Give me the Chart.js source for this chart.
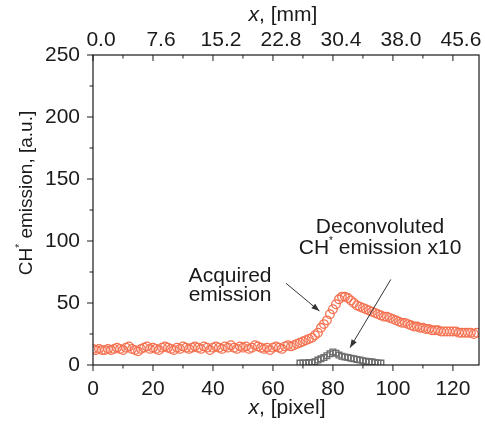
<!DOCTYPE html>
<html>
<head>
<meta charset="utf-8">
<script src="https://cdn.jsdelivr.net/npm/chart.js@4/dist/chart.umd.min.js"></script>
<style>
  html, body { margin: 0; padding: 0; background: #fff; }
  #wrap { width: 485px; height: 426px; }
</style>
</head>
<body>
<div id="wrap"><canvas id="c" width="485" height="426"></canvas></div>
<script>
// ---- data ----
const acquiredX = [];
for (let i = 0; i <= 128; i++) acquiredX.push(i);
const acquiredY = [
  13, 12, 13, 12, 12, 13, 12, 13, 14, 13,
  12, 14, 15, 13, 12, 11, 13, 14, 15, 13,
  14, 13, 12, 14, 15, 14, 13, 12, 14, 13,
  15, 14, 13, 14, 15, 14, 13, 15, 14, 12,
  14, 15, 14, 13, 15, 14, 16, 14, 13, 15,
  14, 15, 13, 14, 16, 15, 14, 13, 14, 12,
  14, 15, 14, 13, 15, 16, 15, 16, 17, 18,
  19, 20, 21, 22, 24, 26, 30, 33, 36, 41,
  45, 49, 53, 55, 55, 54, 52, 50, 48, 47,
  46, 45, 44, 43, 42, 41, 40, 39, 39, 38,
  37, 36, 35, 34, 34, 33, 32, 31, 31, 30,
  30, 29, 29, 28, 28, 28, 27, 27, 27, 27,
  27, 27, 26, 26, 26, 26, 26, 25, 26
];
const deconvX = [69, 70, 71, 72, 73, 74, 75, 76, 77, 78, 79, 80, 81, 82,
                 83, 84, 85, 86, 87, 88, 89, 90, 91, 92, 93, 94, 95, 96];
const deconvY = [1.5, 1.5, 1.5, 2, 2, 2.5, 4, 5, 6, 7.5, 9, 10.5, 9.5, 8,
                 7, 6.5, 6, 5.5, 5, 4.5, 4, 3.5, 3, 2.5, 2.5, 2, 1.5, 1.5];

const xMajor = [0, 20, 40, 60, 80, 100, 120];
const yMajor = [0, 50, 100, 150, 200, 250];
const mmPerPixel = 0.38;

const FONT = '"Liberation Sans", Arial, Helvetica, sans-serif';
const INK = '#1a1a1a';
const FS = 21;

// ---- helpers ----
const toPts = (xs, ys) => xs.map((x, i) => ({ x, y: ys[i] }));

// draw text made of parts: {t, size, italic, dy}
function richWidth(ctx, parts) {
  let w = 0;
  parts.forEach(p => {
    ctx.font = (p.italic ? 'italic ' : '') + p.size + 'px ' + FONT;
    w += ctx.measureText(p.t).width;
  });
  return w;
}
function drawRich(ctx, parts, cx, cy) {
  const w = richWidth(ctx, parts);
  let x = cx - w / 2;
  ctx.textBaseline = 'middle';
  ctx.textAlign = 'left';
  parts.forEach(p => {
    ctx.font = (p.italic ? 'italic ' : '') + p.size + 'px ' + FONT;
    ctx.fillText(p.t, x, cy + (p.dy || 0));
    x += ctx.measureText(p.t).width;
  });
}
function arrow(ctx, x1, y1, x2, y2) {
  ctx.beginPath();
  ctx.moveTo(x1, y1);
  ctx.lineTo(x2, y2);
  ctx.stroke();
  const a = Math.atan2(y2 - y1, x2 - x1);
  const L = 8, W = 3;
  ctx.beginPath();
  ctx.moveTo(x2, y2);
  ctx.lineTo(x2 - L * Math.cos(a) + W * Math.sin(a), y2 - L * Math.sin(a) - W * Math.cos(a));
  ctx.lineTo(x2 - L * Math.cos(a) - W * Math.sin(a), y2 - L * Math.sin(a) + W * Math.cos(a));
  ctx.closePath();
  ctx.fill();
}

// ---- axes frame, ticks, titles, annotations ----
const decorations = {
  id: 'decorations',
  afterDatasetsDraw(chart) {
    const { ctx, chartArea: a, scales } = chart;
    const sx = scales.x, sy = scales.y;
    ctx.save();
    ctx.strokeStyle = INK;
    ctx.fillStyle = INK;
    ctx.lineWidth = 1.2;
    ctx.strokeRect(a.left, a.top, a.right - a.left, a.bottom - a.top);

    ctx.lineWidth = 1;
    ctx.beginPath();
    for (let v = 0; v <= 128; v += 10) {
      const px = sx.getPixelForValue(v);
      const len = v % 20 === 0 ? 6 : 3.5;
      ctx.moveTo(px, a.bottom); ctx.lineTo(px, a.bottom + len);
      ctx.moveTo(px, a.top); ctx.lineTo(px, a.top + len);
    }
    for (let v = 0; v <= 250; v += 25) {
      const py = sy.getPixelForValue(v);
      const len = v % 50 === 0 ? 6 : 3.5;
      ctx.moveTo(a.left, py); ctx.lineTo(a.left - len, py);
    }
    ctx.stroke();

    // axis titles
    drawRich(ctx, [{ t: 'x', size: FS, italic: true }, { t: ', [mm]', size: FS }], 283, 15);
    drawRich(ctx, [{ t: 'x', size: FS, italic: true }, { t: ', [pixel]', size: FS }], 287, 408);
    ctx.save();
    ctx.translate(27, 193);
    ctx.rotate(-Math.PI / 2);
    drawRich(ctx, [{ t: 'CH', size: 19 }, { t: '*', size: 10, dy: -7 },
                   { t: ' emission, [a.u.]', size: 19 }], 0, 0);
    ctx.restore();

    // annotations placed in data coordinates
    const P = (x, y) => [sx.getPixelForValue(x), sy.getPixelForValue(y)];
    let p = P(45.7, 71.5);
    drawRich(ctx, [{ t: 'Acquired', size: FS }], p[0], p[1]);
    p = P(45.7, 56);
    drawRich(ctx, [{ t: 'emission', size: FS }], p[0], p[1]);
    p = P(95.7, 111);
    drawRich(ctx, [{ t: 'Deconvoluted', size: FS }], p[0], p[1]);
    p = P(95.7, 94.5);
    drawRich(ctx, [{ t: 'CH', size: FS }, { t: '*', size: 10, dy: -7 },
                   { t: ' emission x10', size: FS }], p[0], p[1]);

    ctx.strokeStyle = '#333';
    ctx.fillStyle = '#333';
    ctx.lineWidth = 1;
    const a1 = P(64.3, 66), a2 = P(75.5, 43.5);
    arrow(ctx, a1[0], a1[1], a2[0], a2[1]);
    const b1 = P(99.3, 69), b2 = P(85.7, 14);
    arrow(ctx, b1[0], b1[1], b2[0], b2[1]);
    ctx.restore();
  }
};

new Chart(document.getElementById('c').getContext('2d'), {
  type: 'scatter',
  data: {
    datasets: [
      {
        label: 'Acquired emission',
        data: toPts(acquiredX, acquiredY),
        pointStyle: 'circle',
        pointRadius: 4.3,
        borderWidth: 1.3,
        borderColor: '#f4704f',
        backgroundColor: 'rgba(255,255,255,0)'
      },
      {
        label: 'Deconvoluted CH* emission x10',
        data: toPts(deconvX, deconvY),
        pointStyle: 'rect',
        pointRadius: 4,
        borderWidth: 1.4,
        borderColor: '#6e6e6e',
        backgroundColor: 'rgba(255,255,255,0)'
      }
    ]
  },
  options: {
    responsive: false,
    animation: false,
    layout: { padding: { left: 0, right: 6, top: 0, bottom: 0 } },
    plugins: { legend: { display: false }, tooltip: { enabled: false } },
    scales: {
      x: {
        type: 'linear', position: 'bottom', min: 0, max: 128.7,
        grid: { display: false, drawTicks: false },
        border: { display: false },
        afterFit(s) { s.height = 61; },
        afterBuildTicks(s) { s.ticks = xMajor.map(v => ({ value: v })); },
        ticks: { color: INK, padding: 12, font: { family: FONT, size: FS } }
      },
      x2: {
        type: 'linear', position: 'top', min: 0, max: 128.7,
        grid: { display: false, drawTicks: false },
        border: { display: false },
        afterFit(s) { s.height = 55; },
        afterBuildTicks(s) { s.ticks = xMajor.map(v => ({ value: v })); },
        ticks: {
          color: INK, padding: 2, labelOffset: 8, font: { family: FONT, size: FS },
          callback: v => (v * mmPerPixel).toFixed(1)
        }
      },
      y: {
        type: 'linear', min: 0, max: 250,
        grid: { display: false, drawTicks: false },
        border: { display: false },
        afterFit(s) { s.width = 93; },
        afterBuildTicks(s) { s.ticks = yMajor.map(v => ({ value: v })); },
        ticks: { color: INK, padding: 13, font: { family: FONT, size: FS } }
      }
    }
  },
  plugins: [decorations]
});
</script>
</body>
</html>
